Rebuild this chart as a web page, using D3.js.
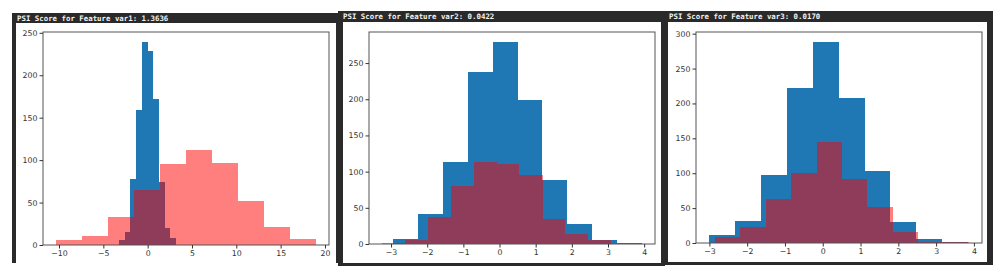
<!DOCTYPE html>
<html>
<head>
<meta charset="utf-8">
<script src="https://cdn.jsdelivr.net/npm/d3@7"></script>
<style>
  body { margin: 0; background: #fff; }
  svg { display: block; }
  .tick text { font-family: "DejaVu Sans", sans-serif; font-size: 7.8px; fill: #333; }
  .tick line { stroke: #333; }
  .title { font-family: "DejaVu Sans Mono", monospace; font-size: 7.4px; font-weight: bold; fill: #f2f2f2; }
</style>
</head>
<body>
<svg id="chart" width="1000" height="277"></svg>
<script>
// 1] Data ----------------------------------------//

const titles = [
  "PSI Score for Feature var1: 1.3636",
  "PSI Score for Feature var2: 0.0422",
  "PSI Score for Feature var3: 0.0170"
]

// var1 - blue (expected) and red (actual) histograms
const var1BlueEdges = [-3.23, -2.59, -1.94, -1.30, -0.66, -0.01, 0.63, 1.27, 1.92, 2.56, 3.20]
const var1BlueCounts = [6, 15, 78, 159, 239, 229, 172, 74, 20, 8]
const var1RedEdges = [-10.34, -7.41, -4.47, -1.54, 1.39, 4.33, 7.26, 10.19, 13.13, 16.06, 18.99]
const var1RedCounts = [6, 11, 33, 65, 95, 112, 97, 52, 21, 7]
const var1XTicks = [-10, -5, 0, 5, 10, 15, 20]
const var1YTicks = [0, 50, 100, 150, 200, 250]

// var2
const var2BlueEdges = [-2.95, -2.26, -1.57, -0.88, -0.19, 0.50, 1.18, 1.87, 2.56, 3.25, 3.94]
const var2BlueCounts = [7, 42, 114, 238, 279, 199, 88, 27, 5, 1]
const var2RedEdges = [-3.25, -2.62, -1.98, -1.35, -0.71, -0.08, 0.55, 1.19, 1.82, 2.46, 3.09]
const var2RedCounts = [1, 6, 38, 80, 114, 111, 96, 35, 14, 5]
const var2XTicks = [-3, -2, -1, 0, 1, 2, 3, 4]
const var2YTicks = [0, 50, 100, 150, 200, 250]

// var3
const var3BlueEdges = [-3.01, -2.32, -1.64, -0.95, -0.27, 0.42, 1.11, 1.79, 2.48, 3.16, 3.85]
const var3BlueCounts = [11, 32, 98, 222, 288, 208, 103, 30, 6, 2]
const var3RedEdges = [-2.85, -2.18, -1.51, -0.83, -0.16, 0.51, 1.18, 1.85, 2.53, 3.20, 3.87]
const var3RedCounts = [8, 23, 63, 100, 145, 92, 51, 16, 2, 1]
const var3XTicks = [-3, -2, -1, 0, 1, 2, 3, 4]
const var3YTicks = [0, 50, 100, 150, 200, 250, 300]

// 2] Panel layout (screen frames + axes boxes) ---//

const panels = [
  { title: titles[0], frame: [12, 13, 328, 250], inner: [16, 23, 320, 240], bottomBorder: false,
    axes: [43, 329, 32, 245], textX: 17,
    blue: [var1BlueEdges, var1BlueCounts], red: [var1RedEdges, var1RedCounts],
    xTicks: var1XTicks, yTicks: var1YTicks },
  { title: titles[1], frame: [338, 11, 327, 255], inner: [343, 22, 318, 241], bottomBorder: true,
    axes: [369, 655, 32, 244], textX: 343,
    blue: [var2BlueEdges, var2BlueCounts], red: [var2RedEdges, var2RedCounts],
    xTicks: var2XTicks, yTicks: var2YTicks },
  { title: titles[2], frame: [664, 11, 329, 254], inner: [668, 22, 319, 240], bottomBorder: true,
    axes: [696, 982, 32, 243], textX: 669,
    blue: [var3BlueEdges, var3BlueCounts], red: [var3RedEdges, var3RedCounts],
    xTicks: var3XTicks, yTicks: var3YTicks }
]

const svg = d3.select("#chart")

const toBins = (edges, counts) => counts.map((c, i) => ({ x0: edges[i], x1: edges[i + 1], n: c }))

panels.forEach(p => {
  const [fx, fy, fw, fh] = p.frame
  const [ix, iy, iw, ih] = p.inner
  const [left, right, top, bottom] = p.axes

  // frame
  svg.append("rect").attr("x", fx).attr("y", fy).attr("width", fw).attr("height", fh).attr("fill", "#2a2a2a")
  svg.append("rect").attr("x", ix).attr("y", iy).attr("width", iw)
     .attr("height", p.bottomBorder ? ih : fy + fh - iy).attr("fill", "#fff")
  svg.append("text").attr("class", "title").attr("x", p.textX).attr("y", fy + 8).text(p.title)

  // 3] Scales ------------------------------------//
  const blueBins = toBins(p.blue[0], p.blue[1])
  const redBins = toBins(p.red[0], p.red[1])
  const lo = Math.min(p.blue[0][0], p.red[0][0])
  const hi = Math.max(p.blue[0][p.blue[0].length - 1], p.red[0][p.red[0].length - 1])
  const pad = (hi - lo) * 0.05
  const xScale = d3.scaleLinear().domain([lo - pad, hi + pad]).range([left, right])
  const yMax = d3.max(blueBins.concat(redBins), d => d.n) * 1.05
  const yScale = d3.scaleLinear().domain([0, yMax]).range([bottom, top])

  const g = svg.append("g")

  // 4] Bars --------------------------------------//
  const drawBars = (bins, fill, opacity) => {
    g.append("g").attr("shape-rendering", "crispEdges").selectAll("rect")
      .data(bins)
      .enter().append("rect")
      .attr("x", d => xScale(d.x0))
      .attr("width", d => xScale(d.x1) - xScale(d.x0))
      .attr("y", d => yScale(d.n))
      .attr("height", d => yScale(0) - yScale(d.n))
      .attr("fill", fill)
      .attr("fill-opacity", opacity)
  }
  drawBars(blueBins, "#1f77b4", 1)
  drawBars(redBins, "#ff0000", 0.5)

  // 5] Axes --------------------------------------//
  g.append("rect").attr("x", left).attr("y", top).attr("width", right - left).attr("height", bottom - top)
   .attr("fill", "none").attr("stroke", "#555").attr("stroke-width", 1)

  const xAxis = g.append("g").attr("transform", `translate(0,${bottom})`)
    .call(d3.axisBottom(xScale).tickValues(p.xTicks).tickSize(3.5).tickPadding(2)
      .tickFormat(d => d < 0 ? "\u2212" + Math.abs(d) : d))
  xAxis.select(".domain").remove()

  const yAxis = g.append("g").attr("transform", `translate(${left},0)`)
    .call(d3.axisLeft(yScale).tickValues(p.yTicks).tickSize(3.5).tickPadding(2))
  yAxis.select(".domain").remove()
})
</script>
</body>
</html>
